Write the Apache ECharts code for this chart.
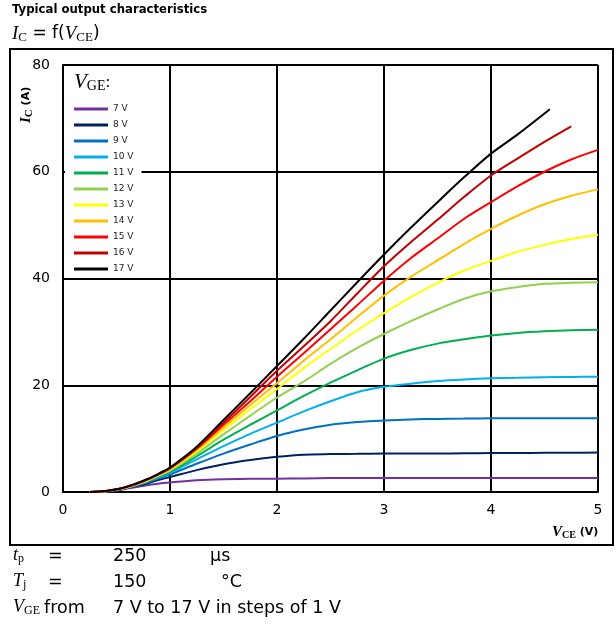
<!DOCTYPE html>
<html>
<head>
<meta charset="utf-8">
<script src="https://cdn.jsdelivr.net/npm/echarts@6/dist/echarts.min.js"></script>
<style>
  html, body { margin: 0; padding: 0; background: #fff; }
  #chart { width: 616px; height: 624px; }
</style>
</head>
<body>
<div id="chart"></div>
<script>
// V_CE sample points (V)
var vce = [0.25, 0.4, 0.5, 0.6, 0.7, 0.8, 0.9, 1.0, 1.25, 1.5, 1.75, 2.0, 2.25, 2.5, 2.75, 3.0, 3.25, 3.5, 3.75, 4.0, 4.25, 4.5, 4.75, 5.0];
// I_C (A) per V_GE
var ic7  = [0, 0.1, 0.3, 0.65, 1.0, 1.3, 1.6, 1.8, 2.2, 2.4, 2.5, 2.5, 2.55, 2.6, 2.6, 2.6, 2.6, 2.6, 2.6, 2.6, 2.6, 2.6, 2.6, 2.6];
var ic8  = [0, 0.1, 0.35, 0.75, 1.2, 1.7, 2.3, 2.8, 4.1, 5.2, 6.0, 6.6, 7.0, 7.1, 7.15, 7.2, 7.2, 7.2, 7.25, 7.3, 7.3, 7.35, 7.35, 7.4];
var ic9  = [0, 0.1, 0.4, 0.8, 1.3, 1.9, 2.6, 3.3, 5.3, 7.2, 8.9, 10.5, 11.7, 12.6, 13.1, 13.4, 13.6, 13.7, 13.75, 13.8, 13.8, 13.8, 13.8, 13.8];
var ic10 = [0, 0.15, 0.4, 0.8, 1.4, 2.0, 2.8, 3.6, 6.1, 8.6, 10.9, 13.0, 15.1, 17.0, 18.7, 19.7, 20.3, 20.8, 21.1, 21.3, 21.4, 21.5, 21.55, 21.6];
var ic11 = [0, 0.15, 0.4, 0.85, 1.4, 2.1, 3.0, 3.8, 6.7, 9.8, 12.6, 15.3, 18.0, 20.5, 22.8, 25.0, 26.6, 27.8, 28.6, 29.3, 29.8, 30.1, 30.3, 30.4];
var ic12 = [0, 0.15, 0.45, 0.9, 1.5, 2.2, 3.1, 4.0, 7.2, 10.8, 14.3, 17.7, 20.7, 24.0, 27.0, 29.6, 32.0, 34.2, 36.2, 37.6, 38.4, 39.0, 39.2, 39.3];
var ic13 = [0, 0.15, 0.45, 0.9, 1.5, 2.3, 3.2, 4.2, 7.6, 11.6, 15.5, 19.3, 23.2, 26.8, 30.3, 33.5, 36.5, 39.2, 41.5, 43.3, 45.0, 46.3, 47.4, 48.2];
var ic14 = [0, 0.2, 0.5, 0.9, 1.6, 2.4, 3.3, 4.3, 7.9, 12.1, 16.3, 20.4, 24.6, 28.6, 32.8, 36.8, 40.3, 43.4, 46.5, 49.3, 51.8, 53.9, 55.5, 56.7];
var ic15 = [0, 0.2, 0.5, 1.0, 1.6, 2.4, 3.4, 4.4, 8.1, 12.6, 17.0, 21.6, 26.0, 30.5, 35.0, 39.6, 43.8, 47.5, 51.2, 54.3, 57.3, 60.0, 62.3, 64.1];
var ic16 = [0, 0.2, 0.5, 1.0, 1.7, 2.5, 3.4, 4.5, 8.3, 13.0, 17.8, 22.7, 27.3, 32.0, 37.2, 42.3, 46.8, 51.0, 55.3, 59.3, 62.5, 65.6, 68.5, null];
var ic17 = [0, 0.2, 0.5, 1.0, 1.7, 2.5, 3.5, 4.6, 8.5, 13.5, 18.5, 23.6, 28.7, 34.0, 39.3, 44.5, 49.5, 54.3, 59.0, 63.4, 67.0, null, null, null];
var tail17 = [4.55, 71.7];

var gateVoltages = ['7 V', '8 V', '9 V', '10 V', '11 V', '12 V', '13 V', '14 V', '15 V', '16 V', '17 V'];
var curves = [ic7, ic8, ic9, ic10, ic11, ic12, ic13, ic14, ic15, ic16, ic17];
var colors = ['#7030A0', '#002060', '#0070C0', '#00B0F0', '#00B050', '#92D050', '#FFFF00', '#FFC000', '#FF0000', '#C00000', '#000000'];

var xTicks = [0, 1, 2, 3, 4, 5];
var yTicks = [0, 20, 40, 60, 80];

var SANS = 'DejaVu Sans';
var SERIF = 'Liberation Serif';

var chart = echarts.init(document.getElementById('chart'));

var series = curves.map(function (arr, i) {
    var pts = [];
    vce.forEach(function (v, k) {
        if (arr[k] !== null) pts.push([v, arr[k]]);
    });
    if (i === 10) pts.push(tail17);
    return {
        name: gateVoltages[i],
        type: 'line',
        data: pts,
        smooth: 0.3,
        showSymbol: false,
        symbol: 'none',
        lineStyle: { width: 2, color: colors[i] },
        itemStyle: { color: colors[i] }
    };
});

// italic symbol with roman subscript, e.g. t_p
function symbolText(x, y, main, sub, size, subSize) {
    return {
        type: 'text', left: x, top: y, z: 100,
        style: {
            text: '{m|' + main + '}{s|' + sub + '}',
            rich: {
                m: { fontFamily: SERIF, fontStyle: 'italic', fontSize: size, fill: '#000' },
                s: { fontFamily: SERIF, fontSize: subSize, padding: [8, 0, 0, 0], fill: '#000' }
            }
        }
    };
}

function plain(x, y, txt, size) {
    return { type: 'text', left: x, top: y, z: 100, style: { text: txt, fontFamily: SANS, fontSize: size || 17.5, fill: '#000' } };
}

chart.setOption({
    animation: false,
    backgroundColor: '#fff',
    color: colors,
    grid: { left: 63, right: 18, top: 65, bottom: 132, containLabel: false },
    xAxis: {
        type: 'value',
        min: 0, max: 5, interval: 1,
        axisLine: { show: true, lineStyle: { color: '#000', width: 2 } },
        axisTick: { show: false },
        splitLine: { show: true, lineStyle: { color: '#000', width: 2 } },
        axisLabel: {
            margin: 11, color: '#000', fontFamily: SANS, fontSize: 14,
            formatter: function (v) { return xTicks.indexOf(v) >= 0 ? String(v) : ''; }
        }
    },
    yAxis: {
        type: 'value',
        min: 0, max: 80, interval: 20,
        axisLine: { show: true, lineStyle: { color: '#000', width: 2 } },
        axisTick: { show: false },
        splitLine: { show: true, lineStyle: { color: '#000', width: 2 } },
        axisLabel: {
            margin: 13, color: '#000', fontFamily: SANS, fontSize: 14,
            formatter: function (v) { return yTicks.indexOf(v) >= 0 ? String(v) : ''; }
        }
    },
    legend: {
        orient: 'vertical',
        left: 65, top: 67,
        padding: [36, 8, 1, 9],
        backgroundColor: '#fff',
        icon: 'rect',
        itemWidth: 34, itemHeight: 3, itemGap: 4,
        textStyle: { fontFamily: SANS, fontSize: 9, color: '#222', lineHeight: 12 },
        data: gateVoltages
    },
    graphic: [
        { type: 'rect', z: -1, shape: { x: 10, y: 49, width: 603, height: 496 }, style: { fill: 'none', stroke: '#000', lineWidth: 2 } },
        { type: 'text', left: 12, top: 4, z: 100, style: { text: 'Typical output characteristics', fontFamily: SANS, fontWeight: 'bold', fontSize: 11.7, fill: '#000' } },
        {
            type: 'text', left: 12, top: 24, z: 100,
            style: {
                text: '{m|I}{s|C}{r| = f(}{m|V}{s|CE}{r|)}',
                rich: {
                    m: { fontFamily: SERIF, fontStyle: 'italic', fontSize: 19, fill: '#000' },
                    s: { fontFamily: SERIF, fontSize: 13, padding: [8, 0, 0, 0], fill: '#000' },
                    r: { fontFamily: SANS, fontSize: 17, fill: '#000' }
                }
            }
        },
        {
            type: 'text', left: 74, top: 72, z: 100,
            style: {
                text: '{m|V}{s|GE}{r|:}',
                rich: {
                    m: { fontFamily: SERIF, fontStyle: 'italic', fontSize: 21, fill: '#000' },
                    s: { fontFamily: SERIF, fontSize: 14, padding: [8, 0, 0, 0], fill: '#000' },
                    r: { fontFamily: SERIF, fontSize: 17, fill: '#000' }
                }
            }
        },
        {
            type: 'text', x: 18, y: 123, rotation: Math.PI / 2, z: 100,
            style: {
                text: '{m|I}{s|C}{r| (A)}',
                rich: {
                    m: { fontFamily: SERIF, fontStyle: 'italic', fontWeight: 'bold', fontSize: 15, fill: '#000' },
                    s: { fontFamily: SERIF, fontWeight: 'bold', fontSize: 11, padding: [6, 0, 0, 0], fill: '#000' },
                    r: { fontFamily: SANS, fontWeight: 'bold', fontSize: 11, fill: '#000' }
                }
            }
        },
        {
            type: 'text', left: 552, top: 525, z: 100,
            style: {
                text: '{m|V}{s|CE}{r| (V)}',
                rich: {
                    m: { fontFamily: SERIF, fontStyle: 'italic', fontWeight: 'bold', fontSize: 15, fill: '#000' },
                    s: { fontFamily: SERIF, fontWeight: 'bold', fontSize: 10, padding: [6, 0, 0, 0], fill: '#000' },
                    r: { fontFamily: SANS, fontWeight: 'bold', fontSize: 11, fill: '#000' }
                }
            }
        },
        symbolText(13, 546, 't', 'p', 18, 12),
        plain(48, 547, '='),
        plain(113, 547, '250'),
        plain(210, 547, 'µs'),
        symbolText(13, 572, 'T', 'j', 18, 12),
        plain(48, 573, '='),
        plain(113, 573, '150'),
        plain(221, 573, '°C'),
        symbolText(13, 598, 'V', 'GE', 18, 12),
        plain(44, 599, 'from'),
        plain(113, 599, '7 V to 17 V in steps of 1 V')
    ],
    series: series
});
</script>
</body>
</html>
